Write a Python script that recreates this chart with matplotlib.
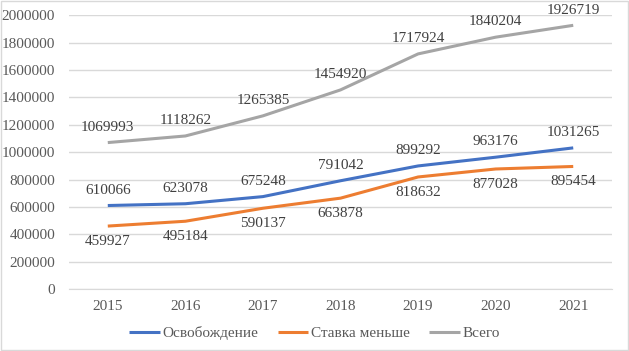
import matplotlib.pyplot as plt
from matplotlib.patches import Rectangle
from matplotlib.ticker import FuncFormatter

plt.rcParams['font.family'] = ['Liberation Serif', 'DejaVu Serif']

years = ['2015', '2016', '2017', '2018', '2019', '2020', '2021']
release = [610066, 623078, 675248, 791042, 899292, 963176, 1031265]
lower_rate = [459927, 495184, 590137, 663878, 818632, 877028, 895454]
total = [1069993, 1118262, 1265385, 1454920, 1717924, 1840204, 1926719]

series = [
    ('Освобождение', release, '#4472C4', 11),
    ('Ставка меньше', lower_rate, '#ED7D31', -11),
    ('Всего', total, '#A5A5A5', 11),
]

fig = plt.figure(figsize=(6.29, 3.51), dpi=100)
ax = fig.add_axes([0.1097, 0.1766, 0.8633, 0.7798])

x = range(len(years))
for name, vals, color, off in series:
    ax.plot(x, vals, color=color, lw=2.2, label=name, solid_capstyle='butt')
    for xi, v in zip(x, vals):
        ax.annotate(str(v), (xi, v), xytext=(0, off), textcoords='offset points',
                    ha='center', va='center', fontsize=11, color='#404040')

ax.set_xlim(-0.5, len(years) - 0.5)
ax.set_ylim(0, 2000000)
ax.set_yticks(range(0, 2000001, 200000))
ax.yaxis.set_major_formatter(FuncFormatter(lambda v, p: f'{int(v)}'))
ax.set_xticks(list(x))
ax.set_xticklabels(years)
ax.grid(axis='y', color='#D9D9D9', lw=1)
ax.set_axisbelow(True)
for s in ['top', 'right', 'left']:
    ax.spines[s].set_visible(False)
ax.spines['bottom'].set_color('#D9D9D9')
ax.tick_params(length=0, labelsize=11, labelcolor='#595959')
ax.tick_params(axis='y', pad=10)
ax.tick_params(axis='x', pad=8)

fig.legend(loc='center', bbox_to_anchor=(0.5, 0.05), ncol=3, frameon=False,
           fontsize=11, labelcolor='#595959', handlelength=2.0,
           handletextpad=0.15, columnspacing=1.3)

fig.patches.append(Rectangle((0.001, 0.002), 0.997, 0.995, transform=fig.transFigure,
                             fill=False, edgecolor='#D9D9D9', lw=1))

fig.savefig('out.png', dpi=100)
